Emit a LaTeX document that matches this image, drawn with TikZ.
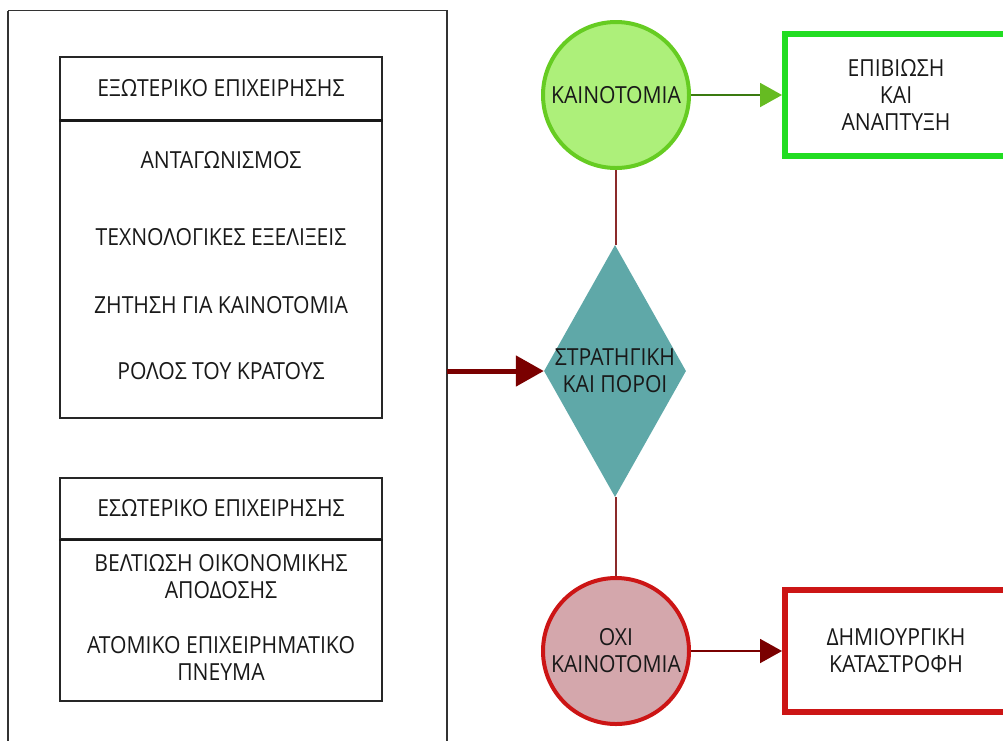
\documentclass[tikz,border=0pt]{standalone}
\usepackage{fontspec}
\setmainfont[FakeStretch=0.9]{Open Sans}
\usetikzlibrary{shapes.geometric,arrows.meta}
\definecolor{gfill}{HTML}{ADF07A}
\definecolor{gline}{HTML}{66CC22}
\definecolor{gbox}{HTML}{22DD22}
\definecolor{garrow}{HTML}{3A7A10}
\definecolor{ghead}{HTML}{66BB22}
\definecolor{teal}{HTML}{5FA8A8}
\definecolor{rfill}{HTML}{D4A7AC}
\definecolor{rline}{HTML}{CC1515}
\definecolor{dred}{HTML}{7A0000}
\definecolor{thinred}{HTML}{8B2A2A}
\tikzset{
  txt/.style={font=\fontsize{23.5}{27}\selectfont, align=center, text=black!90, inner sep=0pt},
  hdrbox/.style={draw=black!85, line width=1.5pt, minimum width=322pt, inner sep=0pt},
  circ/.style={circle, minimum size=146pt, inner sep=0pt, line width=4pt, txt},
  outbox/.style={rectangle, line width=6pt, minimum width=222pt, minimum height=122pt, inner sep=0pt, txt},
  thin/.style={thinred, line width=1.3pt},
}
\begin{document}
\begin{tikzpicture}[x=1pt,y=-1pt]
\useasboundingbox (0,0) rectangle (1003,740);
\clip (0,0) rectangle (1003,740);
\fill[white] (0,0) rectangle (1003,740);
% outer frame
\draw[black!80, line width=1.5pt] (8,10.5) -- (447,10.5) -- (447,760);
\draw[black!80, line width=1.5pt] (8,10.5) -- (8,760);
% external box
\node[hdrbox, minimum height=63pt] (exth) at (221,88.5) {};
\node[hdrbox, minimum height=298pt] (extb) at (221,269) {};
\draw[black!90, line width=3pt] (exth.south west) -- (exth.south east);
\node[txt] (t1) at (221,88) {ΕΞΩΤΕΡΙΚΟ ΕΠΙΧΕΙΡΗΣΗΣ};
\node[txt] (t2) at (221,160) {ΑΝΤΑΓΩΝΙΣΜΟΣ};
\node[txt] (t3) at (221,237) {ΤΕΧΝΟΛΟΓΙΚΕΣ ΕΞΕΛΙΞΕΙΣ};
\node[txt] (t4) at (221,305) {ΖΗΤΗΣΗ ΓΙΑ ΚΑΙΝΟΤΟΜΙΑ};
\node[txt] (t5) at (221,371) {ΡΟΛΟΣ ΤΟΥ ΚΡΑΤΟΥΣ};
% internal box
\node[hdrbox, minimum height=61pt] (inth) at (221,508.5) {};
\node[hdrbox, minimum height=162pt] (intb) at (221,620) {};
\draw[black!90, line width=2.5pt] (inth.south west) -- (inth.south east);
\node[txt] (u1) at (221,508) {ΕΣΩΤΕΡΙΚΟ ΕΠΙΧΕΙΡΗΣΗΣ};
\node[txt] (u2) at (221,577) {ΒΕΛΤΙΩΣΗ ΟΙΚΟΝΟΜΙΚΗΣ\\ΑΠΟΔΟΣΗΣ};
\node[txt] (u3) at (221,658) {ΑΤΟΜΙΚΟ ΕΠΙΧΕΙΡΗΜΑΤΙΚΟ\\ΠΝΕΥΜΑ};
% diamond
\node[diamond, fill=teal, minimum width=142pt, minimum height=252pt, inner sep=0pt] (strat) at (615,371) {};
\node[txt] (stxt) at (strat.center) {ΣΤΡΑΤΗΓΙΚΗ\\ΚΑΙ ΠΟΡΟΙ};
\coordinate (ain) at (447,371);
% circles
\node[circ, draw=gline, fill=gfill] (inno) at (616,95) {ΚΑΙΝΟΤΟΜΙΑ};
\node[circ, draw=rline, fill=rfill] (noinno) at (616,651) {ΟΧΙ\\ΚΑΙΝΟΤΟΜΙΑ};
% outcome boxes
\node[outbox, draw=gbox] (surv) at (896,95) {ΕΠΙΒΙΩΣΗ\\ΚΑΙ\\ΑΝΑΠΤΥΞΗ};
\node[outbox, draw=rline] (destr) at (896,651) {ΔΗΜΙΟΥΡΓΙΚΗ\\ΚΑΤΑΣΤΡΟΦΗ};
% connectors
\draw[dred, line width=5pt, -{Triangle[length=28pt, width=30pt]}] (ain) -- (strat.west);
\draw[thin] (inno.south) -- (inno.south |- strat.north);
\draw[thin] (noinno.north |- strat.south) -- (noinno.north);
\draw[garrow, line width=2pt, -{Triangle[length=22pt, width=24pt, color=ghead]}] (inno.east) -- (surv.west);
\draw[dred, line width=2pt, -{Triangle[length=22pt, width=24pt]}] (noinno.east) -- (destr.west);
\end{tikzpicture}
\end{document}
